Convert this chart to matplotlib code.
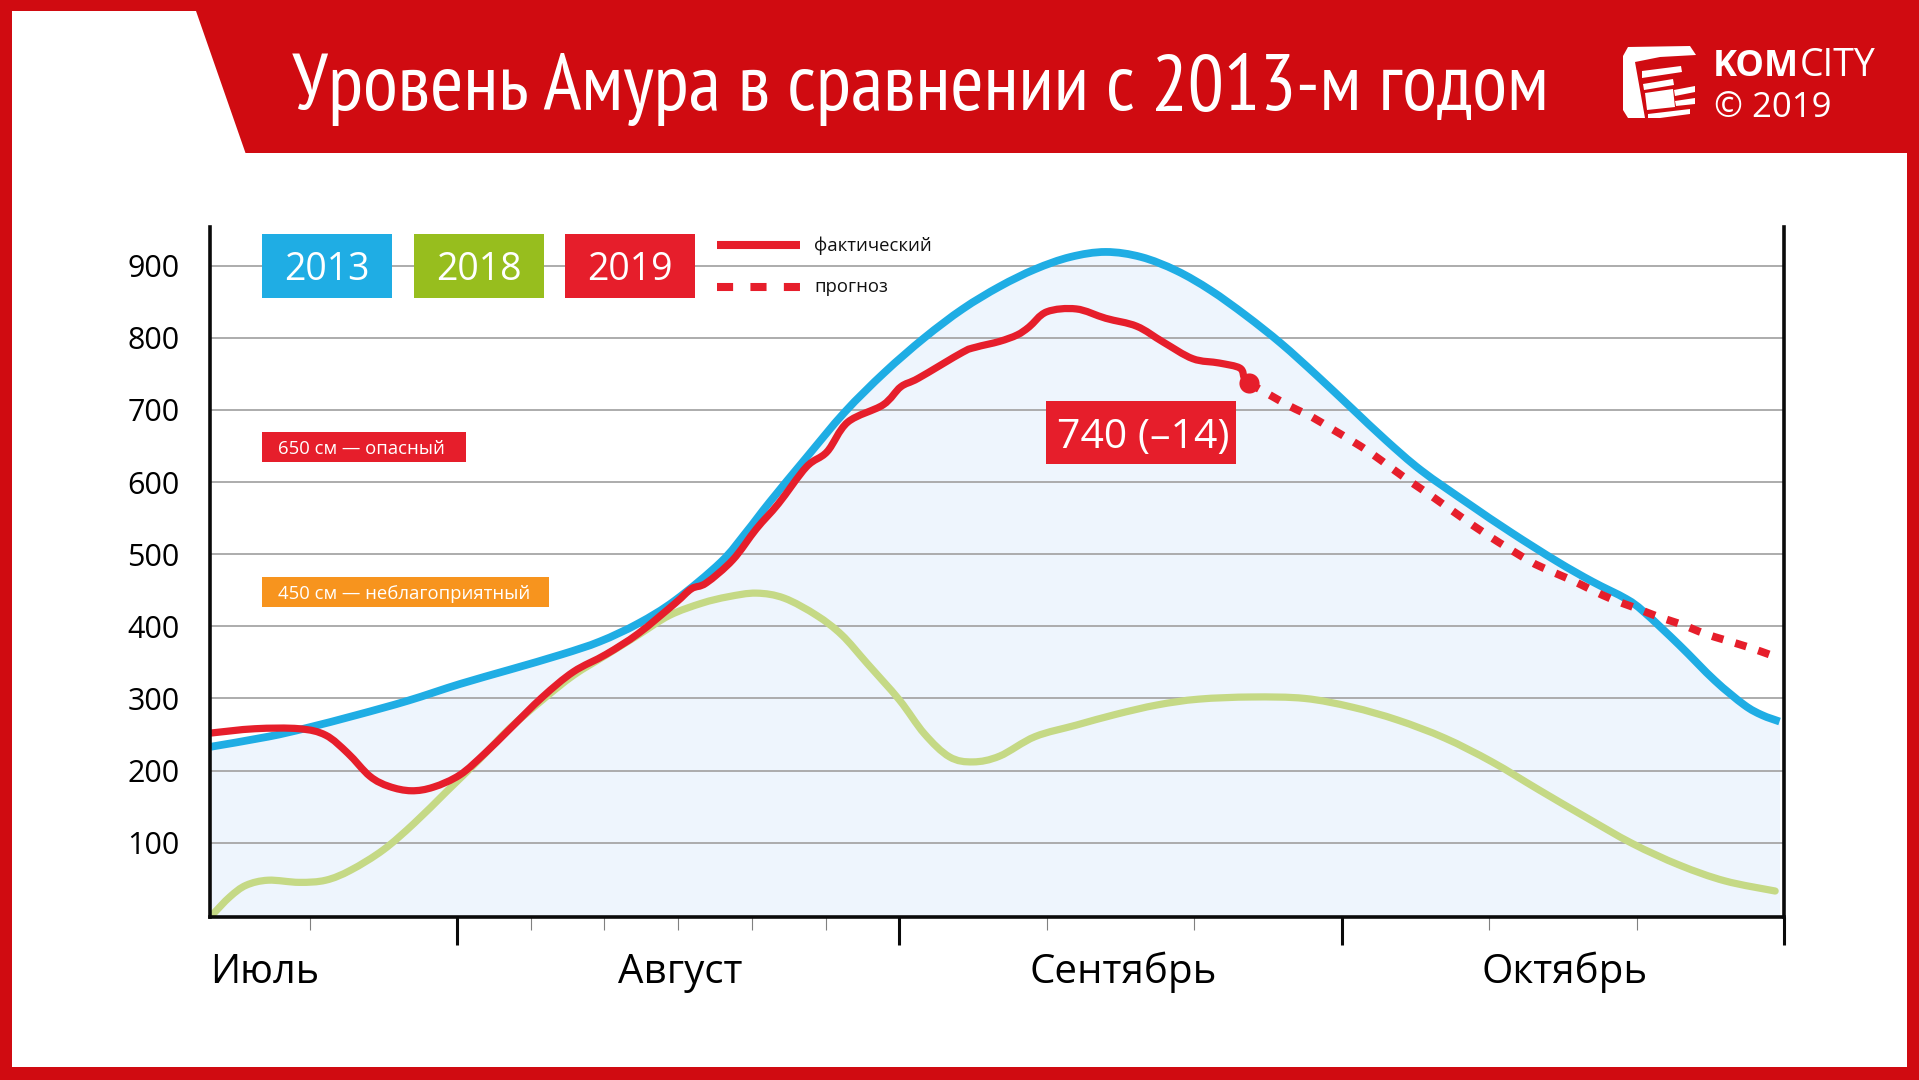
import matplotlib
matplotlib.use("Agg")
import matplotlib.pyplot as plt
from matplotlib.patches import PathPatch, Polygon, Rectangle
from matplotlib.path import Path
from matplotlib.transforms import blended_transform_factory

# x is a day number with 30-day months: 30 = 1 Aug, 60 = 1 Sep, 90 = 1 Oct, 120 = end of Oct
days_2013 = [13.3, 17.2, 19.8, 23.2, 26.7, 30.2, 33.6, 37.1, 39.7, 42.3, 44.8, 47.9, 49.6, 51.2, 53.7,
             56.3, 59, 61.7, 64.3, 66.8, 69.2, 71.6, 74, 76.4, 78.8, 81.1, 83.5, 85.9, 88.3, 90.7,
             93, 95.4, 98.6, 101.5, 104.6, 107, 109.3, 110.5, 112.9, 115.3, 117.3, 118.5, 119.7]
level_2013 = [233, 247, 259, 277, 297, 320, 340, 361, 379, 404, 436, 489, 530, 572, 634,
              697, 752, 800, 840, 871, 895, 912, 919, 912, 893, 866, 831, 792, 748, 702,
              658, 616, 570, 530, 490, 462, 438, 420, 374, 325, 291, 277, 268]

days_2018 = [13.5, 14.6, 15.7, 17.2, 19.3, 21.1, 22.8, 25, 27.1, 29.3, 31.5, 33.6, 35.8, 37.9, 40.1,
             42.3, 44.4, 46.6, 48.4, 50.3, 52.2, 54.4, 56.1, 57.8, 60, 61.7, 63.4, 65, 66.8, 69.2,
             72, 74.7, 77.5, 80.3, 83.9, 87.5, 90.7, 93.8, 97, 100.2, 103.4, 106.5, 109.7, 112.9,
             116, 119.4]
level_2018 = [2, 25, 41, 48, 45, 48, 62, 90, 127, 171, 215, 259, 298, 332, 360,
              388, 415, 432, 441, 446, 439, 415, 388, 349, 298, 251, 219, 212, 220, 247,
              263, 278, 291, 299, 302, 300, 288, 270, 245, 212, 173, 136, 99, 69,
              47, 33]

days_2019 = [13.3, 16.3, 19.3, 21.1, 22.6, 24.1, 25.4, 26.9, 28.4, 30.2, 31.9, 33.6, 35.8, 37.9, 40.1,
             42.3, 44.8, 45.9, 46.9, 48.7, 50.3, 51.8, 53.7, 55.1, 56.5, 58.9, 60.1, 61.3, 64.3,
             65.2, 66.8, 68, 68.8, 70, 72, 74, 76.1, 77.9, 79.9, 81.7, 83.1, 83.4, 83.7]
level_2019 = [252, 258, 258, 249, 224, 192, 178, 172, 177, 194, 224, 258, 302, 337, 361,
              390, 432, 452, 460, 492, 535, 570, 621, 642, 683, 707, 732, 744, 780,
              787, 795, 804, 815, 836, 840, 827, 816, 794, 771, 765, 758, 744, 737]

days_forecast = [83.7, 85.1, 86.5, 88, 89.3, 90.7, 92, 93.4, 94.7, 96, 98, 100, 102.7, 104, 105.6,
                 107, 108.4, 110, 111.5, 113, 114.6, 116, 117.6, 119]
level_forecast = [737, 721, 705, 690, 674, 657, 640, 619, 600, 582, 553, 525, 491, 478, 464,
                  450, 437, 425, 413, 403, 390, 381, 371, 361]

y_ticks = [100, 200, 300, 400, 500, 600, 700, 800, 900]
month_ticks = [30, 60, 90, 120]
minor_ticks = [20, 35, 40, 45, 50, 55, 70, 80, 100, 110]
month_names = ["Август", "Сентябрь", "Октябрь"]
month_centers = [45, 75, 105]
year_names = ["2013", "2018", "2019"]

RED_FRAME = "#D00B11"
BLUE = "#1FADE4"
GREEN = "#C5D985"
GREEN_BOX = "#97BE1E"
RED = "#E61E2B"
ORANGE = "#F7941E"
TEXT_FONT = ["Open Sans", "DejaVu Sans"]
TITLE_FONT = ["PT Sans Narrow", "Liberation Sans", "DejaVu Sans"]
TITLE_WIDTH = 1256

W, H = 1919, 1080
plt.rcParams["font.family"] = TEXT_FONT


def smooth_line(ax, xx, yy, **kwargs):
    # bezier segments through the read points, so the line has no corners
    verts = [(xx[0], yy[0])]
    for i in range(len(xx) - 1):
        x0, y0 = (xx[i - 1], yy[i - 1]) if i > 0 else (xx[i], yy[i])
        x3, y3 = (xx[i + 2], yy[i + 2]) if i + 2 < len(xx) else (xx[i + 1], yy[i + 1])
        verts.append((xx[i] + (xx[i + 1] - x0) / 6, yy[i] + (yy[i + 1] - y0) / 6))
        verts.append((xx[i + 1] - (x3 - xx[i]) / 6, yy[i + 1] - (y3 - yy[i]) / 6))
        verts.append((xx[i + 1], yy[i + 1]))
    codes = [Path.MOVETO] + [Path.CURVE4] * (len(verts) - 1)
    ax.add_patch(PathPatch(Path(verts, codes), fill=False, **kwargs))


fig = plt.figure(figsize=(W / 100, H / 100), dpi=100, facecolor=RED_FRAME)

# page furniture, drawn in pixel coordinates
page = fig.add_axes([0, 0, 1, 1], zorder=0)
page.set_xlim(0, W)
page.set_ylim(H, 0)
page.axis("off")
page.add_patch(Polygon([(12, 11), (196, 11), (245.5, 153), (1907, 153), (1907, 1067), (12, 1067)],
                       closed=True, fc="white", ec="none"))
title = page.text(292, 110, "Уровень Амура в сравнении с 2013-м годом", color="white", fontsize=58,
                  family=TITLE_FONT, va="baseline", ha="left")
# keep the title clear of the logo whatever font it got
title_w = title.get_window_extent(fig.canvas.get_renderer()).width
title.set_fontsize(58 * TITLE_WIDTH / title_w)

# main chart
ax = fig.add_axes([210 / W, (H - 916.7) / H, (1784 - 210) / W, (916.7 - 226.7) / H], zorder=1)
ax.patch.set_alpha(0)
ax.set_xlim(13.25, 120)
ax.set_ylim(-2.6, 954)

ax.fill_between(days_2013, level_2013, -2.6, color="#EEF5FD", lw=0, zorder=1)
ax.hlines(y_ticks, 13.25, 120, color="#A6A6A6", lw=1.3, zorder=2)
smooth_line(ax, days_2013, level_2013, ec=BLUE, lw=5.6, joinstyle="round", capstyle="butt", zorder=3)
smooth_line(ax, days_2018, level_2018, ec=GREEN, lw=5.2, joinstyle="round", capstyle="round", zorder=4)
smooth_line(ax, days_forecast, level_forecast, ec=RED, lw=5.6, linestyle=(0, (1.5, 1.6)), capstyle="butt", zorder=5)
smooth_line(ax, days_2019, level_2019, ec=RED, lw=5.2, joinstyle="round", capstyle="butt", zorder=6)
ax.plot(days_2019[-1], level_2019[-1], "o", color=RED, ms=14.5, mew=0, zorder=7)

ax.spines["top"].set_visible(False)
for side in ["left", "right", "bottom"]:
    ax.spines[side].set_linewidth(2.6)
    ax.spines[side].set_color("#0A0A0A")
    ax.spines[side].set_zorder(8)

ax.set_yticks(y_ticks)
ax.set_yticklabels([str(v) for v in y_ticks], fontsize=22)
ax.tick_params(axis="y", length=0, pad=22)
ax.set_xticks(month_ticks)
ax.set_xticklabels([])
ax.set_xticks(minor_ticks, minor=True)
ax.tick_params(axis="x", which="major", length=20, width=2.2, color="#0A0A0A")
ax.tick_params(axis="x", which="minor", length=9.5, width=0.8, color="#808080")

over = fig.add_axes([0, 0, 1, 1], zorder=2)
over.set_xlim(0, W)
over.set_ylim(H, 0)
over.axis("off")
trans = blended_transform_factory(ax.transData, over.transData)
over.text(ax.get_xlim()[0], 983, "Июль", transform=trans, fontsize=28.5, ha="left", va="baseline")
for name, center in zip(month_names, month_centers):
    over.text(center + 0.15, 983, name, transform=trans, fontsize=29, ha="center", va="baseline")

# year boxes
for name, x0, col in zip(year_names, [261.5, 414, 565], [BLUE, GREEN_BOX, RED]):
    over.add_patch(Rectangle((x0, 234), 130, 63.5, fc=col, ec="none"))
    over.text(x0 + 65, 266, name, color="white", fontsize=27, ha="center", va="center_baseline")

# line legend
over.plot([717, 800], [244.7, 244.7], color=RED, lw=5.8, solid_capstyle="butt")
over.plot([717, 800], [286.7, 286.7], color=RED, lw=5.8, dashes=(2, 2.15), dash_capstyle="butt")
over.text(814, 244, "фактический", fontsize=13.3, ha="left", va="center_baseline", color="#111111")
over.text(814, 285, "прогноз", fontsize=13.3, ha="left", va="center_baseline", color="#111111")

# threshold labels
over.add_patch(Rectangle((261.5, 432), 204, 30, fc=RED, ec="none"))
over.text(277.5, 447, "650 см — опасный", color="white", fontsize=13.3, ha="left", va="center_baseline")
over.add_patch(Rectangle((261.5, 576.7), 287, 30, fc=ORANGE, ec="none"))
over.text(277.5, 591.7, "450 см — неблагоприятный", color="white", fontsize=13.3, ha="left", va="center_baseline")

# current value label
over.add_patch(Rectangle((1045.7, 401), 190, 63, fc=RED, ec="none"))
over.text(1143, 433, "740 (–14)", color="white", fontsize=29.5, ha="center", va="center_baseline")

# logo
over.add_patch(Polygon([(1623, 56), (1628, 47), (1690, 46), (1696, 55), (1660, 57), (1635, 62),
                        (1645, 118), (1628, 118), (1623, 110)], closed=True, fc="white", ec="none"))
for pts in [[(1642, 71), (1681, 66), (1682, 72), (1642, 78)],
            [(1643, 84), (1673, 79), (1674, 85), (1644, 90)],
            [(1645, 93), (1673, 89), (1675, 107), (1647, 110)],
            [(1674, 90), (1695, 86), (1695, 92), (1675, 96)],
            [(1675, 101), (1695, 98), (1695, 104), (1676, 106)],
            [(1648, 114), (1690, 109), (1690, 114), (1660, 118), (1648, 118)]]:
    over.add_patch(Polygon(pts, closed=True, fc="white", ec="none"))
over.text(1713, 76, "KOM", color="white", fontsize=26, fontweight="bold", ha="left", va="baseline")
over.text(1800, 76, "CITY", color="white", fontsize=27, ha="left", va="baseline")
over.text(1714, 117, "© 2019", color="white", fontsize=25, ha="left", va="baseline")

fig.savefig("out.png", dpi=100, facecolor=fig.get_facecolor())
